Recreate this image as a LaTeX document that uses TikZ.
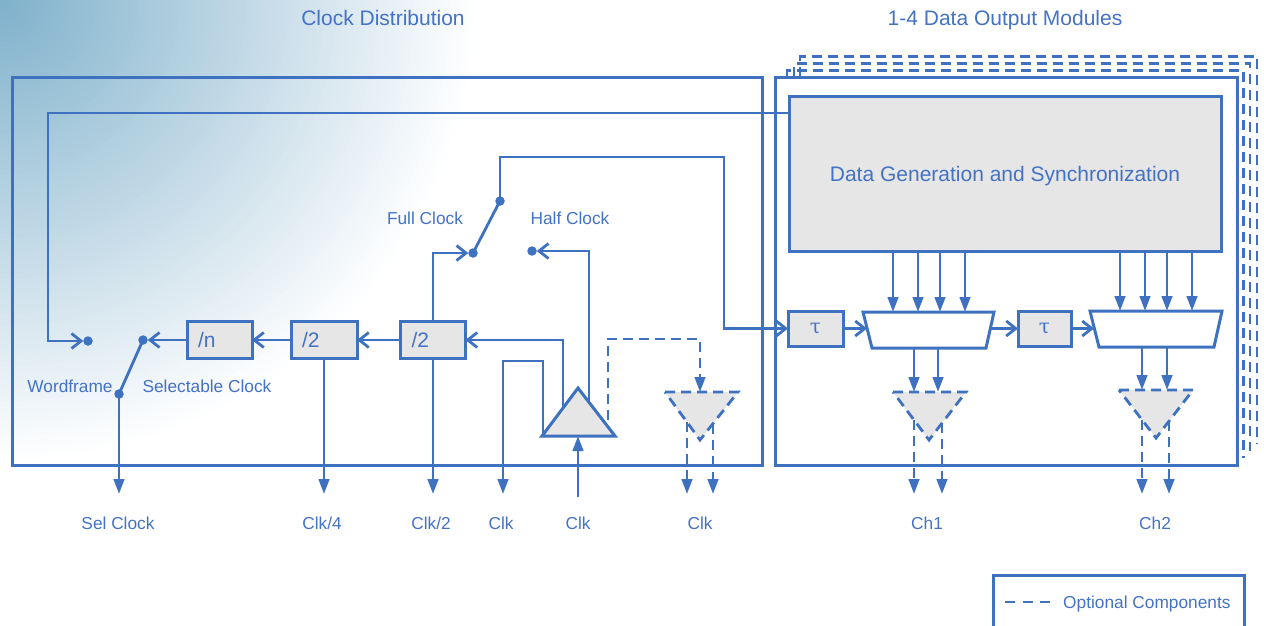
\documentclass[tikz,border=0pt]{standalone}
\usepackage{fontspec}
\setmainfont{Liberation Sans}
\newfontfamily\taufont{DejaVu Serif}
\usetikzlibrary{arrows.meta}
\definecolor{cblue}{RGB}{62,114,192}
\definecolor{ctext}{RGB}{68,114,196}
\definecolor{cgray}{RGB}{230,230,230}
\definecolor{bgA}{RGB}{126,176,203}
\begin{document}
\begin{tikzpicture}[x=1pt,y=-1pt,
  wire/.style={draw=cblue, line width=2.8pt},
  optw/.style={wire, dash pattern=on 10pt off 6pt},
  box/.style={draw=cblue, line width=3pt, fill=cgray, outer sep=0pt},
  frm/.style={draw=cblue, line width=3pt},
  jdot/.style={circle, fill=cblue, inner sep=0pt, minimum size=9.5pt, outer sep=0pt},
  oa/.style={-{Straight Barb[length=9.5pt,width=15pt]}},
  fa/.style={-{Triangle[length=15pt,width=10.5pt]}},
  lab/.style={text=ctext, inner sep=0pt, anchor=base, font=\fontsize{17.3}{20}\selectfont},
  ttl/.style={text=ctext, inner sep=0pt, anchor=base, font=\fontsize{21}{24}\selectfont},
  divbox/.style={box, minimum width=65pt, minimum height=37pt, text width=43pt, inner xsep=11pt, inner ysep=0pt, text depth=0pt, align=left, text=ctext, font=\fontsize{21}{23}\selectfont},
  taubox/.style={box, minimum height=35pt, inner sep=0pt, text depth=0pt, text=ctext, font=\taufont\fontsize{20}{24}\selectfont},
]
\useasboundingbox (0,0) rectangle (1264,625);
\begin{scope}
\clip (0,0) rectangle (1264,625);
\foreach \i in {0,...,79} {
  \pgfmathsetmacro\pp{\i*100/80}
  \pgfmathsetmacro\rx{480*(1-\i/80)}
  \pgfmathsetmacro\ry{465*(1-\i/80)}
  \fill[bgA!\pp!white] (0,0) ellipse [x radius=\rx, y radius=\ry];
}
\end{scope}

% titles
\node[ttl] (t1) at (383,25) {Clock Distribution};
\node[ttl] (t2) at (1005,25) {1-4 Data Output Modules};

% frames
\draw[frm] (12,77) rectangle (762,465);
\draw[optw, line width=2.8pt] (800,77) -- (800,56.5) -- (1257,56.5) -- (1257,444);
\draw[optw, line width=2.8pt] (794,77) -- (794,63.5) -- (1250,63.5) -- (1250,451);
\draw[optw, line width=2.8pt] (787,77) -- (787,70.5) -- (1243.5,70.5) -- (1243.5,458);
\draw[frm, fill=white] (775,77) rectangle (1237,465);

% data generation block
\node[box, minimum width=432pt, minimum height=155pt, text depth=0pt, text=ctext, font=\fontsize{21}{24}\selectfont] (dg) at (1005,173.5) {Data Generation and Synchronization};

% divider boxes
\node[divbox] (divn) at (219.5,340) {/n};
\node[divbox, minimum width=66pt, text width=44pt] (div2a) at (324,340) {/2};
\node[divbox] (div2b) at (433,340) {/2};

% tau boxes
\node[taubox, minimum width=55pt] (tau1) at (815.5,328.5) {τ};
\node[taubox, minimum width=53pt] (tau2) at (1044.5,328.5) {τ};

% switch dots
\node[jdot] (dwf) at (88,341) {};
\node[jdot] (dsel) at (143,340) {};
\node[jdot] (dsw1) at (119,394) {};
\node[jdot] (dfull) at (473,253) {};
\node[jdot] (dpiv) at (500,201) {};
\node[jdot] (dhalf) at (532,251) {};

% coordinates
\coordinate (ybot) at (0,494);
\coordinate (wfa) at (48,113);
\coordinate (bend1) at (724,157);
\coordinate (ta) at (578,388);
\coordinate (tl) at (542,436);
\coordinate (tr) at (615,436);
\coordinate (tp1) at (563,436);
\coordinate (tp2) at (589,436);
\coordinate (tp3) at (543,436);
\coordinate (tp4) at (608,436);
\coordinate (bend2) at (503,361);
\coordinate (clkin) at (578,497);
\coordinate (bend3) at (700,339);

% mux 1
\coordinate (m1tl) at (863,312);
\coordinate (m1tr) at (994,312);
\coordinate (m1br) at (986,348);
\coordinate (m1bl) at (872,348);
\coordinate (m1in) at (867,328.5);
\coordinate (m1out) at (990,328.5);
% mux 2
\coordinate (m2tl) at (1090,311);
\coordinate (m2tr) at (1222,311);
\coordinate (m2br) at (1214,347);
\coordinate (m2bl) at (1099,347);
\coordinate (m2in) at (1094,328.5);

% optional triangles
\coordinate (o0l) at (665,392); \coordinate (o0r) at (738,392); \coordinate (o0a) at (700,440);
\coordinate (o1l) at (893,392); \coordinate (o1r) at (966,392); \coordinate (o1a) at (929,440);
\coordinate (o2l) at (1119,390); \coordinate (o2r) at (1193,390); \coordinate (o2a) at (1156,438);

% ---- left part connectors
\draw[wire,oa] (dg.west |- wfa) -- (wfa) |- (dwf);
\draw[wire,oa] (divn.west) -- (dsel);
\draw[wire] (dsw1.center) -- (dsel.center);
\draw[wire,fa] (dsw1.center) -- (dsw1 |- ybot);
\draw[wire,oa] (div2a.west |- divn.east) -- (divn.east);
\draw[wire,oa] (div2b.west) -- (div2b.west -| div2a.east);
\draw[wire,fa] (div2a.south) -- (div2a.south |- ybot);
\draw[wire,fa] (div2b.south) -- (div2b.south |- ybot);
\draw[wire,oa] (div2b.north) |- (dfull);
\draw[wire] (dpiv.center) -- (dfull.center);
\draw[wire,oa] (dpiv.center) |- (bend1) |- (tau1.west);
\draw[wire,oa] (tp1) |- (div2b.east);
\draw[wire,oa] (tp2) |- (dhalf);
\draw[wire,fa] (tp3) |- (bend2) -- (bend2 |- ybot);
\draw[optw,fa] (tp4) |- (bend3) -- (o0l -| bend3);

% amplifier triangle
\draw[box, line join=miter] (ta) -- (tr) -- (tl) -- cycle;
\draw[wire,fa] (clkin) -- (ta |- tl);

% optional clock buffer
\fill[cgray] (o0l) -- (o0r) -- (o0a) -- cycle;
\coordinate (o0p1) at (687,422); \coordinate (o0p2) at (713,424);
\draw[optw,fa] (o0p1) -- (o0p1 |- ybot);
\draw[optw,fa] (o0p2) -- (o0p2 |- ybot);
\draw[optw] (o0l) -- (o0r) -- (o0a) -- cycle;

% ---- right part
\foreach \x [count=\i] in {893,918,940,965} {
  \coordinate (m1i\i) at (\x,312);
  \draw[wire,fa] (dg.south -| m1i\i) -- (m1i\i);
}
\foreach \x [count=\i] in {1120,1145,1167,1192} {
  \coordinate (m2i\i) at (\x,311);
  \draw[wire,fa] (dg.south -| m2i\i) -- (m2i\i);
}
\draw[frm, fill=white, line join=miter] (m1tl) -- (m1tr) -- (m1br) -- (m1bl) -- cycle;
\draw[frm, fill=white, line join=miter] (m2tl) -- (m2tr) -- (m2br) -- (m2bl) -- cycle;
\draw[wire,oa] (tau1.east) -- (m1in);
\draw[wire,oa] (m1out) -- (tau2.west);
\draw[wire,oa] (tau2.east) -- (m2in);

% mux outputs to optional drivers
\coordinate (m1o1) at (914,348); \coordinate (m1o2) at (938,348);
\coordinate (m2o1) at (1142,347); \coordinate (m2o2) at (1167,347);
\draw[wire,fa] (m1o1) -- (m1o1 |- o1l);
\draw[wire,fa] (m1o2) -- (m1o2 |- o1l);
\draw[wire,fa] (m2o1) -- (m2o1 |- o2l);
\draw[wire,fa] (m2o2) -- (m2o2 |- o2l);

\fill[cgray] (o1l) -- (o1r) -- (o1a) -- cycle;
\fill[cgray] (o2l) -- (o2r) -- (o2a) -- cycle;
\coordinate (o1p1) at (914,420); \coordinate (o1p2) at (942,423);
\coordinate (o2p1) at (1142,420); \coordinate (o2p2) at (1169,421);
\draw[optw,fa] (o1p1) -- (o1p1 |- ybot);
\draw[optw,fa] (o1p2) -- (o1p2 |- ybot);
\draw[optw,fa] (o2p1) -- (o2p1 |- ybot);
\draw[optw,fa] (o2p2) -- (o2p2 |- ybot);
\draw[optw] (o1l) -- (o1r) -- (o1a) -- cycle;
\draw[optw] (o2l) -- (o2r) -- (o2a) -- cycle;

% labels
\node[lab] (lwf) at (70,392.5) {Wordframe};
\node[lab] (lsel) at (207,392.5) {Selectable Clock};
\node[lab] (lfull) at (425,224) {Full Clock};
\node[lab] (lhalf) at (570,224) {Half Clock};
\node[lab] (b1) at (118,529) {Sel Clock};
\node[lab] (b2) at (322,529) {Clk/4};
\node[lab] (b3) at (431,529) {Clk/2};
\node[lab] (b4) at (501,529) {Clk};
\node[lab] (b5) at (578,529) {Clk};
\node[lab] (b6) at (700,529) {Clk};
\node[lab] (b7) at (927,529) {Ch1};
\node[lab] (b8) at (1155,529) {Ch2};

% legend
\draw[frm] (993,575) rectangle (1244,645);
\coordinate (lg1) at (1005,602); \coordinate (lg2) at (1050,602);
\draw[optw, line width=2.8pt, dash pattern=on 10pt off 7.5pt] (lg1) -- (lg2);
\node[lab, anchor=base west] (lgt) at (1063,608) {Optional Components};
\end{tikzpicture}
\end{document}
